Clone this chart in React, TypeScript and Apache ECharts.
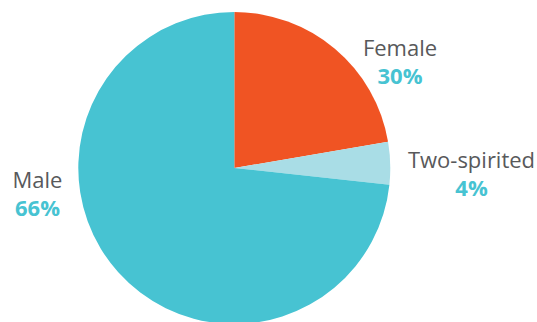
import React, { useEffect, useRef } from "react";
import * as echarts from "echarts";

const categories = ["Female", "Two-spirited", "Male"];
// slice sizes as drawn in the picture (share of the circle, %)
const sliceShares = [22.3, 4.4, 73.3];
// percentages printed in the labels
const labelPercents = [30, 4, 66];

const colors = ["#F05423", "#A9DDE6", "#47C3D2"];
const labelPos = [
  [400, 61],
  [471.5, 173],
  [37.5, 192.5],
];

export default function App() {
  const ref = useRef<HTMLDivElement>(null);
  useEffect(() => {
    const chart = echarts.init(ref.current!, undefined, { renderer: "svg" });
    chart.setOption({
      animation: false,
      series: [
        {
          type: "pie",
          center: [234.3, 168],
          radius: [0, 156],
          startAngle: 90,
          clockwise: true,
          silent: true,
          labelLine: { show: false },
          label: {
            show: true,
            position: "outside",
            align: "center",
            overflow: "none",
            edgeDistance: 0,
            bleedMargin: 0,
            formatter: (p: any) => `{n|${p.name}}\n{p|${labelPercents[p.dataIndex]}%}`,
            rich: {
              n: { fontFamily: "Open Sans", fontSize: 22, color: "#58595B", lineHeight: 28, align: "center" },
              p: { fontFamily: "Open Sans", fontSize: 22, fontWeight: "bold", color: "#47C3D2", lineHeight: 28, align: "center" },
            },
          },
          labelLayout: (params: any) => ({
            x: labelPos[params.dataIndex][0],
            y: labelPos[params.dataIndex][1],
            align: "center",
            verticalAlign: "middle",
          }),
          itemStyle: { borderWidth: 0 },
          data: categories.map((c, i) => ({
            name: c,
            value: sliceShares[i],
            itemStyle: { color: colors[i] },
          })),
        },
      ],
    });
    return () => chart.dispose();
  }, []);
  return (
    <div
      ref={ref}
      style={{ position: "fixed", left: 0, top: 0, width: 537, height: 322, background: "#fff" }}
    />
  );
}
